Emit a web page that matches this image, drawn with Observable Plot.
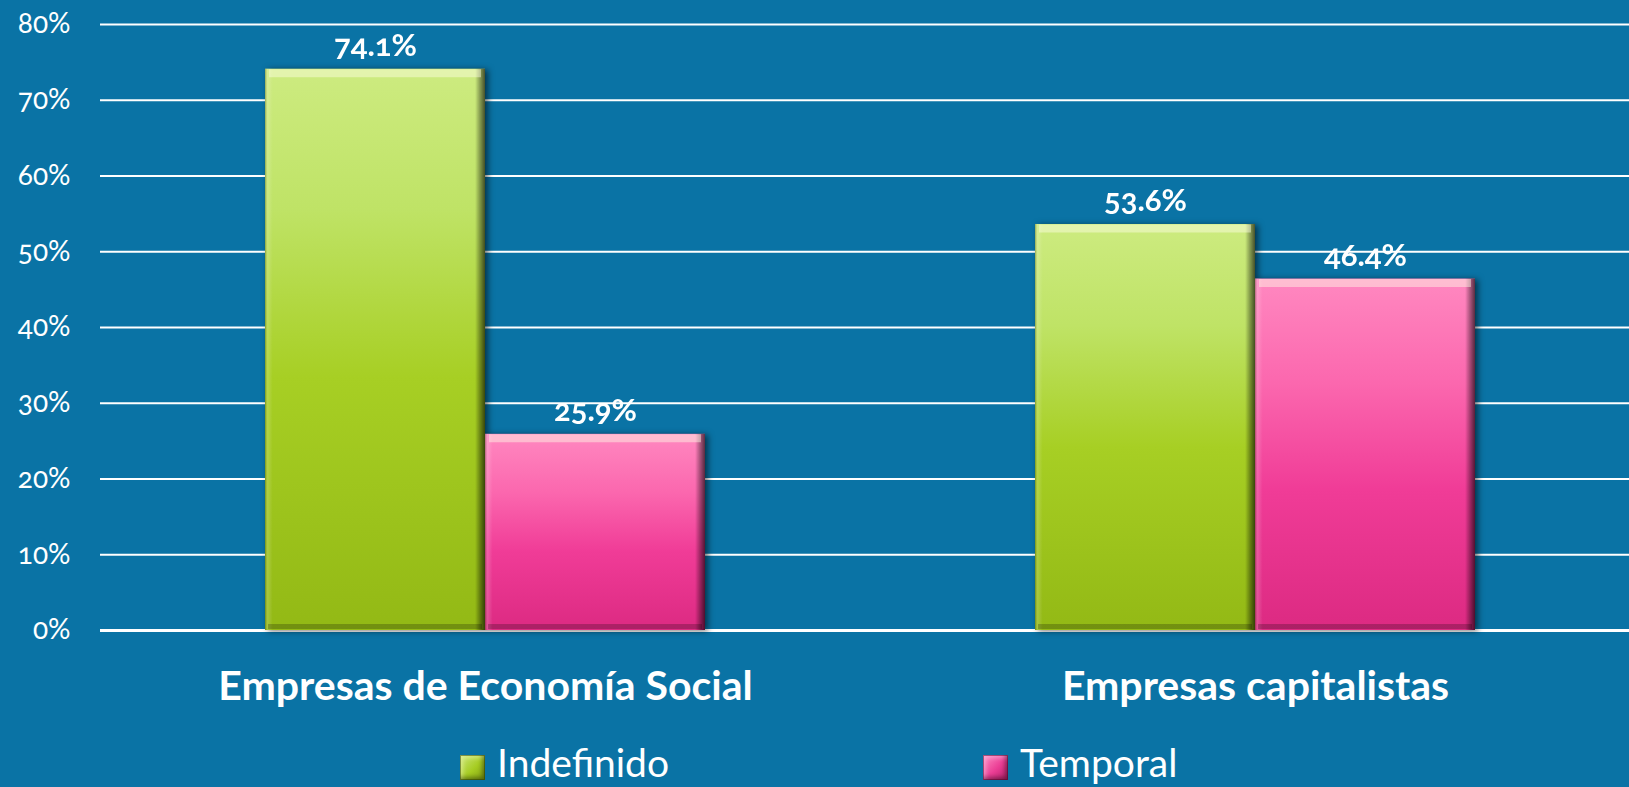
<!DOCTYPE html>
<html>
<head>
<meta charset="utf-8">
<script src="https://cdn.jsdelivr.net/npm/d3@7"></script>
<script src="https://cdn.jsdelivr.net/npm/@observablehq/plot@0.6"></script>
<style>
  html, body { margin: 0; padding: 0; background: #0A73A5; width: 1629px; height: 787px; overflow: hidden; }
  #wrap { position: relative; width: 1629px; height: 787px; font-family: Lato, "Open Sans", sans-serif; }
  svg text { font-variant-numeric: oldstyle-nums; }
  #legend { position: absolute; left: 0; top: 743px; width: 1629px; height: 38px; color: white; }
  .item { position: absolute; top: 0; height: 38px; display: flex; align-items: center; font-size: 39px; line-height: 38px; }
  .sw { width: 25px; height: 25px; margin-right: 12px; box-sizing: border-box; position: relative; top: 5px; }
  .sw.g { background: linear-gradient(135deg, #cde87c 0%, #a6cc22 55%, #7e9c10 100%); box-shadow: inset 0 0 0 1px rgba(40,60,0,0.5), inset -3px -3px 4px rgba(0,0,0,0.35), inset 3px 3px 4px rgba(255,255,200,0.4); }
  .sw.p { background: linear-gradient(135deg, #ff8cc4 0%, #ea3d94 55%, #b01e68 100%); box-shadow: inset 0 0 0 1px rgba(80,0,40,0.5), inset -3px -3px 4px rgba(0,0,0,0.35), inset 3px 3px 4px rgba(255,220,240,0.4); }
</style>
</head>
<body>
<div id="wrap"></div>
<script>
const categories = ["Empresas de Economía Social", "Empresas capitalistas"];
const series = ["Indefinido", "Temporal"];
const indefinido = [0.741, 0.536];
const temporal = [0.259, 0.464];
const yTicks = [0, 0.1, 0.2, 0.3, 0.4, 0.5, 0.6, 0.7, 0.8];
const seriesFills = ["url(#gradGreen)", "url(#gradPink)"];

const data = [];
categories.forEach((c, i) => {
  data.push({category: c, series: series[0], value: indefinido[i]});
  data.push({category: c, series: series[1], value: temporal[i]});
});

const fmt = d3.format(".1%");

const plot = Plot.plot({
  width: 1629,
  height: 720,
  marginTop: 24,
  marginBottom: 90,
  marginLeft: 100,
  marginRight: 0,
  style: {background: "transparent", color: "white", fontFamily: "Lato, 'Open Sans', sans-serif", overflow: "visible"},
  fx: {domain: categories, range: [100, 1640], padding: 0, label: null},
  x: {domain: series, paddingInner: 0, paddingOuter: 0.75, align: 0.5, axis: null},
  y: {domain: [0, 0.8], axis: null},
  color: {domain: series, range: seriesFills},
  marks: [
    Plot.gridY(yTicks, {stroke: "white", strokeOpacity: 1, strokeWidth: 2}),
    Plot.ruleY([0], {stroke: "white", strokeWidth: 3}),
    Plot.barY(data, {fx: "category", x: "series", y: "value", fill: "series"}),
    Plot.barY(data, {fx: "category", x: "series", y: "value", fill: "url(#bevelH)"}),
    Plot.tickY(data, {fx: "category", x: "series", y: "value", stroke: "rgba(255,255,230,0.45)", strokeWidth: 8, dy: 4, insetLeft: 4, insetRight: 4}),
    Plot.tickY(data, {fx: "category", x: "series", y: () => 0, stroke: "rgba(0,0,0,0.22)", strokeWidth: 5, dy: -4, insetLeft: 3, insetRight: 3}),
    Plot.text(data, {fx: "category", x: "series", y: "value", text: d => fmt(d.value), lineAnchor: "bottom", dy: -13, fill: "white", fontWeight: "bold", fontSize: 31}),
    Plot.axisY(yTicks, {tickFormat: d3.format(".0%"), tickSize: 0, tickPadding: 30, fontSize: 28, fill: "white", label: null}),
    Plot.axisFx({anchor: "bottom", tickSize: 0, tickPadding: 40, fontSize: 41, fontWeight: "bold", fill: "white", label: null})
  ]
});

const svg = d3.select(plot);
const defs = svg.insert("defs", ":first-child");
function vgrad(id, stops) {
  const g = defs.append("linearGradient").attr("id", id).attr("x1", 0).attr("y1", 0).attr("x2", 0).attr("y2", 1);
  stops.forEach(([o, c]) => g.append("stop").attr("offset", o).attr("stop-color", c));
}
vgrad("gradGreen", [[0, "#cdeb80"], [0.25, "#bfe366"], [0.55, "#a7cf24"], [1, "#93b915"]]);
vgrad("gradPink", [[0, "#ff88c0"], [0.3, "#fb67ae"], [0.6, "#f03c97"], [1, "#dc2a82"]]);
const h = defs.append("linearGradient").attr("id", "bevelH").attr("x1", 0).attr("y1", 0).attr("x2", 1).attr("y2", 0);
[[0, "rgba(40,50,0,0.35)"], [0.012, "rgba(255,255,255,0.18)"], [0.035, "rgba(255,255,255,0)"], [0.955, "rgba(0,0,0,0)"], [0.975, "rgba(0,0,0,0.3)"], [1, "rgba(0,0,0,0.65)"]]
  .forEach(([o, c]) => h.append("stop").attr("offset", o).attr("stop-color", c));

const barGroups = plot.querySelectorAll('g[aria-label="bar"]');
if (barGroups.length) barGroups[0].style.filter = "drop-shadow(3px 1px 3px rgba(0,0,0,0.55))";

const wrap = document.getElementById("wrap");
wrap.appendChild(plot);

const legend = document.createElement("div");
legend.id = "legend";
const lefts = [460, 983];
series.forEach((s, i) => {
  const it = document.createElement("div");
  it.className = "item";
  it.style.left = lefts[i] + "px";
  const sw = document.createElement("span");
  sw.className = "sw " + (i === 0 ? "g" : "p");
  const t = document.createElement("span");
  t.textContent = s;
  it.appendChild(sw);
  it.appendChild(t);
  legend.appendChild(it);
});
wrap.appendChild(legend);
</script>
</body>
</html>
